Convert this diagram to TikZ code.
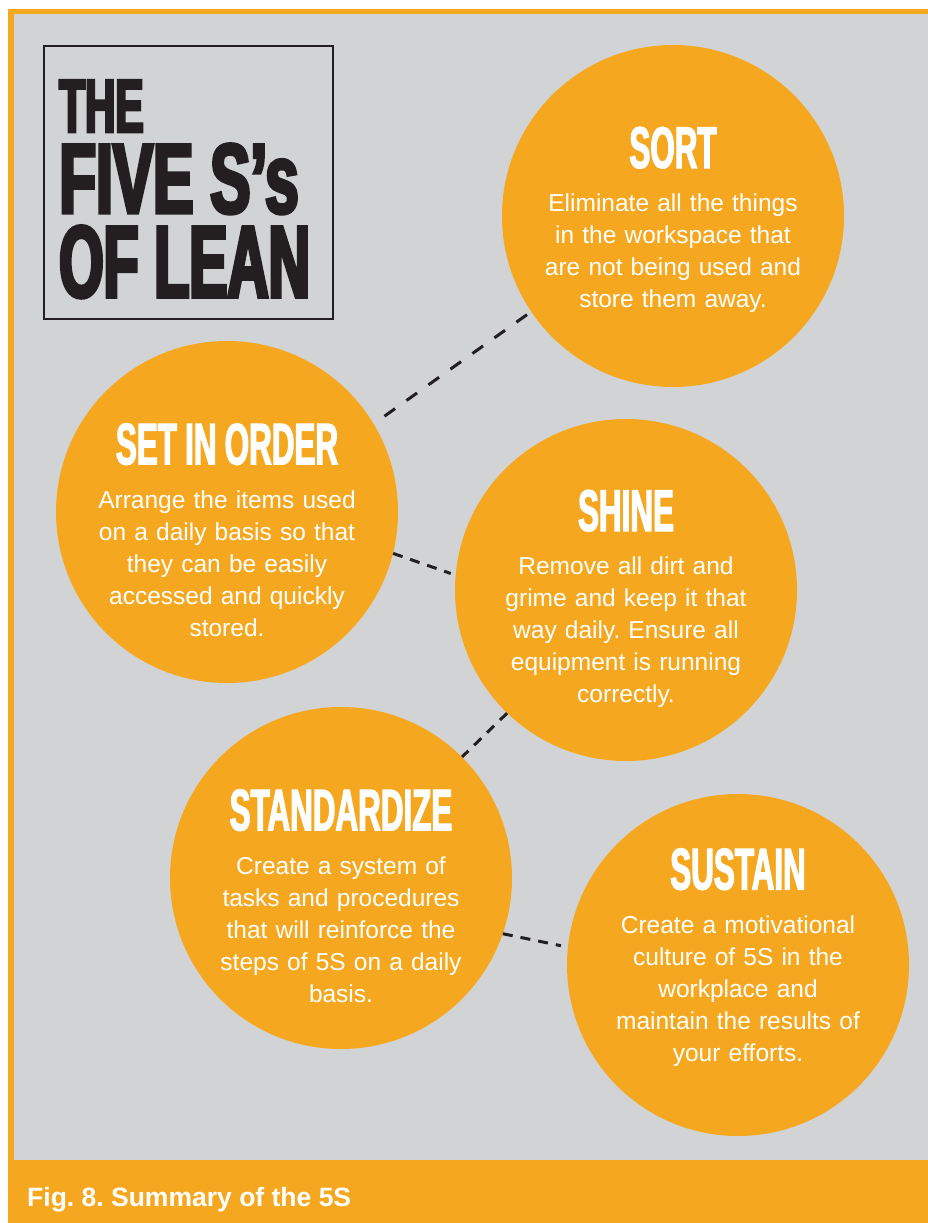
\documentclass[tikz,border=0pt]{standalone}
\usepackage{fontspec}
\setmainfont{Liberation Sans}
\newfontfamily\headfont[FakeStretch=0.535,FakeBold=2]{Liberation Sans}
\newfontfamily\titlefont[FakeStretch=0.56,FakeBold=3.5]{Liberation Sans}
\newfontfamily\titlewide[FakeStretch=0.61,FakeBold=3.5]{Liberation Sans}
\definecolor{Amber}{RGB}{245,168,31}
\definecolor{Fog}{RGB}{209,211,212}
\definecolor{Ink}{RGB}{35,31,32}
\frenchspacing
\tikzset{
  blob/.style={circle,fill=Amber,minimum size=342pt,inner sep=0pt},
  blurb/.style={text=white,text width=340pt,align=center,inner sep=0pt,
    font=\fontsize{24.5}{32}\selectfont},
  titleline/.style={anchor=base west,inner sep=0pt,text=Ink,text depth=0pt},
  link/.style={draw=Ink,line width=3pt,dash pattern=on 10pt off 8pt},
}
\newcommand{\headline}[1]{{\headfont\bfseries\fontsize{58.7}{60}\selectfont #1}}

\begin{document}
\begin{tikzpicture}[x=1pt,y=-1pt]
  \useasboundingbox (0,0) rectangle (928,1223);
  \fill[white] (0,0) rectangle (928,1223);
  \fill[Amber] (8,9) rectangle (928,1223);
  \fill[Fog] (14,14) rectangle (928,1160);

  % title
  \node[draw=Ink,line width=2pt,minimum width=289pt,minimum height=273pt,inner sep=0pt] (titlebox) at (188.5,182.5) {};
  \node[titleline,text height=54pt,font=\titlefont\bfseries\fontsize{75.4}{76}\selectfont] (the) at (59,132) {THE};
  \node[titleline,text height=70pt,font=\titlewide\bfseries\fontsize{99}{100}\selectfont] (fives) at (59,213) {FIVE S’s};
  \node[titleline,text height=73pt,font=\titlefont\bfseries\fontsize{102}{103}\selectfont] (oflean) at (59,297) {OF LEAN};

  % the five circles
  \node[blob] (sort) at (673,216) {};
  \node[blob] (setinorder) at (227,512) {};
  \node[blob] (shine) at (626,590) {};
  \node[blob] (standardize) at (341,878) {};
  \node[blob] (sustain) at (738,965) {};

  \node[blurb,yshift=-4pt] (sort-txt) at (sort) {\headline{SORT}\\[12pt]Eliminate all the things\\in the workspace that\\are not being used and\\store them away.};
  \node[blurb,yshift=-18pt] (setinorder-txt) at (setinorder) {\headline{SET IN ORDER}\\[12pt]Arrange the items used\\on a daily basis so that\\they can be easily\\accessed and quickly\\stored.};
  \node[blurb,yshift=-9pt] (shine-txt) at (shine) {\headline{SHINE}\\[12pt]Remove all dirt and\\grime and keep it that\\way daily. Ensure all\\equipment is running\\correctly.};
  \node[blurb,yshift=-18pt] (standardize-txt) at (standardize) {\headline{STANDARDIZE}\\[12pt]Create a system of\\tasks and procedures\\that will reinforce the\\steps of 5S on a daily\\basis.};
  \node[blurb,yshift=7.5pt] (sustain-txt) at (sustain) {\headline{SUSTAIN}\\[12pt]Create a motivational\\culture of 5S in the\\workplace and\\maintain the results of\\your efforts.};

  % dashed links
  \draw[link,dash pattern=on 13pt off 14pt,shorten <=5pt,shorten >=13pt] (sort.-146) -- (setinorder.31);
  \draw[link,shorten >=5pt] (setinorder.-14) -- (shine.175);
  \draw[link] (shine.-134) -- (standardize.45);
  \draw[link,shorten >=7pt] (standardize.-19) -- (sustain.174);

  % caption
  \node[anchor=base west,inner sep=0pt,text=white,font=\bfseries\fontsize{26.5}{28}\selectfont] (caption) at (27,1206) {Fig. 8. Summary of the 5S};
\end{tikzpicture}
\end{document}
